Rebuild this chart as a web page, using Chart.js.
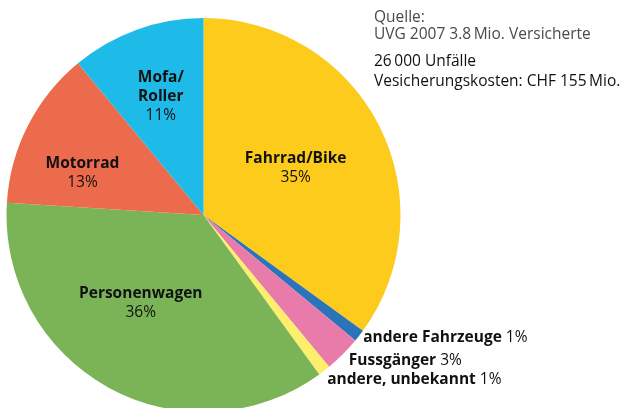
<!DOCTYPE html>
<html>
<head>
<meta charset="utf-8">
<script src="https://cdn.jsdelivr.net/npm/chart.js@4/dist/chart.umd.min.js"></script>
<style>
  html, body { margin: 0; padding: 0; background: #fff; overflow: hidden; }
  #wrap { position: relative; width: 626px; height: 420px; }
</style>
</head>
<body>
<div id="wrap"><canvas id="c"></canvas></div>
<script>
const categories = ["Fahrrad/Bike", "andere Fahrzeuge", "Fussgänger", "andere, unbekannt", "Personenwagen", "Motorrad", "Mofa/\nRoller"];
const shares = [35, 1, 3, 1, 36, 13, 11];
const colors = ["#FCCB1C", "#2B74B9", "#E97BAA", "#FDEE6B", "#7BB457", "#EC6B4D", "#1EBBE8"];
const infoLines = ["Quelle:", "UVG 2007 3.8\u2009Mio. Versicherte", "26\u2009000 Unfälle", "Vesicherungskosten: CHF 155\u2009Mio."];

const FONT = '"Open Sans", "Noto Sans", sans-serif';
const FS = 15.5;
// label placement: inside (radius fraction, angle offset in deg) or outside (offset px)
const placement = [
  { inside: true, f: 0.525, da: 0 },
  { inside: false, dx: 4, dy: 2 },
  { inside: false, dx: 6, dy: 6 },
  { inside: false, dx: 3, dy: 9 },
  { inside: true, f: 0.55, da: 6.6 },
  { inside: true, f: 0.65, da: -8.0 },
  { inside: true, f: 0.64, da: 0 }
];

const labelPlugin = {
  id: 'sliceLabels',
  afterDatasetsDraw(chart) {
    const ctx = chart.ctx;
    const meta = chart.getDatasetMeta(0);
    ctx.save();
    ctx.fillStyle = '#111';
    ctx.textBaseline = 'middle';
    meta.data.forEach((arc, i) => {
      const p = placement[i];
      const mid = (arc.startAngle + arc.endAngle) / 2;
      const name = categories[i];
      const pct = shares[i] + '%';
      if (p.inside) {
        const a = mid + p.da * Math.PI / 180;
        const x = arc.x + Math.cos(a) * arc.outerRadius * p.f;
        const y = arc.y + Math.sin(a) * arc.outerRadius * p.f;
        const lines = name.split('\n');
        const lh = 18.8;
        const total = lines.length + 1;
        ctx.textAlign = 'center';
        lines.forEach((ln, k) => {
          ctx.font = 'bold ' + FS + 'px ' + FONT;
          ctx.fillText(ln, x, y + (k - (total - 1) / 2) * lh);
        });
        ctx.font = FS + 'px ' + FONT;
        ctx.fillText(pct, x, y + (total - 1 - (total - 1) / 2) * lh);
      } else {
        const x = arc.x + Math.cos(mid) * arc.outerRadius + p.dx;
        const y = arc.y + Math.sin(mid) * arc.outerRadius + p.dy;
        ctx.textAlign = 'left';
        ctx.font = 'bold ' + FS + 'px ' + FONT;
        ctx.fillText(name, x, y);
        const w = ctx.measureText(name + ' ').width;
        ctx.font = FS + 'px ' + FONT;
        ctx.fillText(pct, x + w, y);
      }
    });
    // info text top right
    ctx.textAlign = 'left';
    ctx.font = FS + 'px ' + FONT;
    const ys = [18, 35, 62, 82];
    infoLines.forEach((t, k) => {
      ctx.fillStyle = k < 2 ? '#4a4a4a' : '#111';
      ctx.fillText(t, 374, ys[k]);
    });
    ctx.restore();
  }
};

new Chart(document.getElementById('c'), {
  type: 'pie',
  data: {
    labels: categories,
    datasets: [{
      data: shares,
      backgroundColor: colors,
      borderWidth: 0
    }]
  },
  options: {
    responsive: true,
    maintainAspectRatio: false,
    animation: false,
    layout: { padding: { left: 6.5, top: 18, right: 225.5, bottom: 8 } },
    plugins: { legend: { display: false }, tooltip: { enabled: false } }
  },
  plugins: [labelPlugin]
});
</script>
</body>
</html>
